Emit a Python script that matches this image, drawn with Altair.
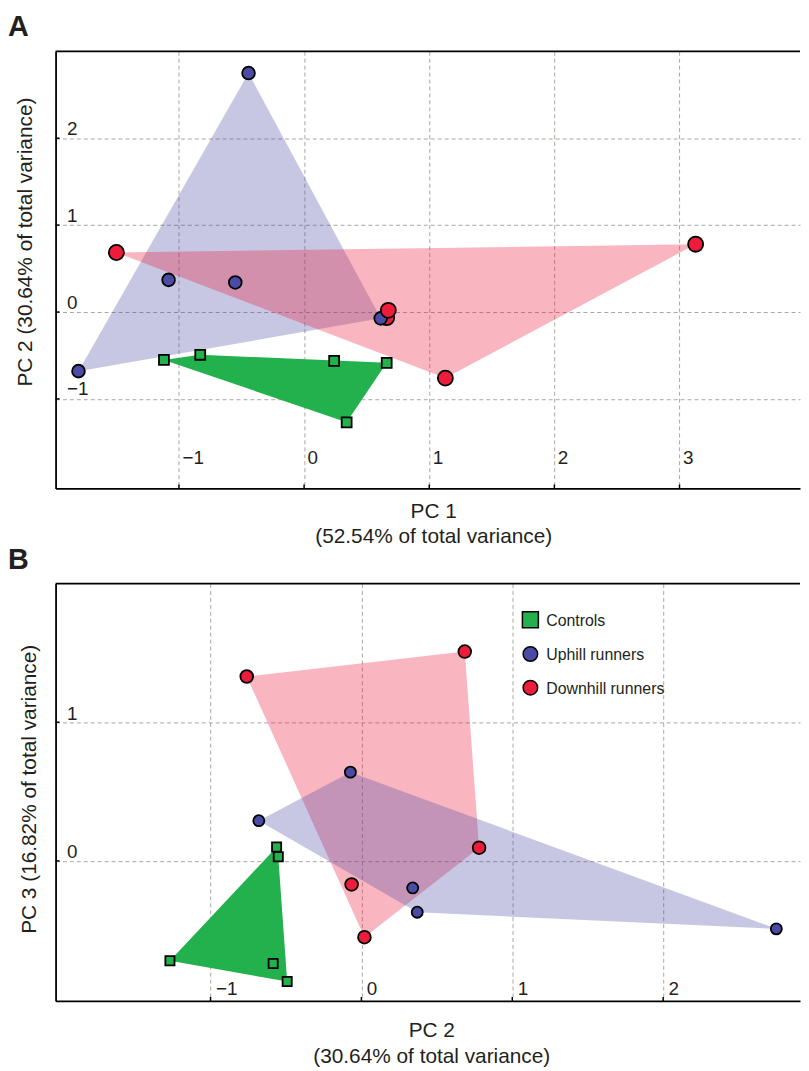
import altair as alt
import pandas as pd

# ---------------- data ----------------
groups = ["Controls", "Uphill runners", "Downhill runners"]
group_fill = ["#22B14C", "#4B4BA5", "#EC1C3A"]
group_shape = ["square", "circle", "circle"]

ctrl_pc1 = [-1.12, -0.83, 0.24, 0.66, 0.34]
ctrl_pc2 = [-0.551, -0.492, -0.562, -0.585, -1.269]
ctrl_pc3 = [0.03, -0.87, 0.10, -0.74, -0.72]

up_pc1 = [-0.444, -1.803, 0.612, -1.083, -0.55]
up_pc2 = [2.75, -0.68, -0.073, 0.37, 0.34]
up_pc3 = [-0.49, 0.29, 0.64, -0.37, -0.195]

down_pc1 = [-1.50, 3.129, 0.673, 1.129, 0.66]
down_pc2 = [0.685, 0.78, 0.02, -0.76, -0.065]
down_pc3 = [1.51, 0.095, -0.55, 1.33, -0.17]

# drawing order of the points (the hidden downhill point sits behind an uphill one)
draw_order = {"Controls": [0, 1, 2, 3, 4],
              "Uphill runners": [6, 7, 8, 9, 10],
              "Downhill runners": [11, 12, 13, 14, 5]}

xtick_a = [-1, 0, 1, 2, 3]
ytick_a = [-1, 0, 1, 2]
xtick_b = [-1, 0, 1, 2]
ytick_b = [0, 1]

pc = {
    "Controls": (ctrl_pc1, ctrl_pc2, ctrl_pc3),
    "Uphill runners": (up_pc1, up_pc2, up_pc3),
    "Downhill runners": (down_pc1, down_pc2, down_pc3),
}

FONT = "Liberation Sans"
TXT = "#231F20"

fill_scale = alt.Scale(domain=groups, range=group_fill)
shape_scale = alt.Scale(domain=groups, range=group_shape)


def convex_hull(pts):
    pts = sorted(set(pts))
    if len(pts) < 3:
        return pts

    def cross(o, a, b):
        return (a[0] - o[0]) * (b[1] - o[1]) - (a[1] - o[1]) * (b[0] - o[0])

    lower, upper = [], []
    for p in pts:
        while len(lower) >= 2 and cross(lower[-2], lower[-1], p) <= 0:
            lower.pop()
        lower.append(p)
    for p in reversed(pts):
        while len(upper) >= 2 and cross(upper[-2], upper[-1], p) <= 0:
            upper.pop()
        upper.append(p)
    return lower[:-1] + upper[:-1]


def frames(ix, iy):
    rows, hulls = [], {}
    for g in groups:
        xs, ys = pc[g][ix], pc[g][iy]
        for k, (a, b) in enumerate(zip(xs, ys)):
            rows.append({"x": a, "y": b, "group": g, "draw": draw_order[g][k]})
        h = convex_hull(list(zip(xs, ys)))
        hulls[g] = pd.DataFrame({"x": [p[0] for p in h], "y": [p[1] for p in h],
                                 "o": list(range(len(h)))})
    pts = pd.DataFrame(rows).sort_values("draw")
    return pts, hulls


def legend_layers():
    # legend block placed inside panel B (positions are pixel styling)
    ldf = pd.DataFrame({"group": groups})
    row_y = [36.5, 71.0, 105.0]
    sym_size = [260, 215, 215]
    out = []
    for g, yy, ss in zip(groups, row_y, sym_size):
        base = alt.Chart(ldf).transform_filter(alt.datum.group == g)
        out.append(
            base.mark_point(filled=True, stroke="black", strokeWidth=1.5, opacity=1)
            .encode(x=alt.value(479), y=alt.value(yy), size=alt.value(ss),
                    fill=alt.Fill("group:N", scale=fill_scale, legend=None),
                    shape=alt.Shape("group:N", scale=shape_scale, legend=None))
        )
        out.append(
            base.mark_text(align="left", baseline="middle", font=FONT, fontSize=16,
                           color=TXT)
            .encode(x=alt.value(495), y=alt.value(yy + 1), text="group:N")
        )
    return out


def panel(ix, iy, xdom, ydom, W, H, xticks, yticks, xtitle, ytitle,
          xaxis_kw, yaxis_kw, letter, hull_order, sizes, with_legend, title_offset):
    pts, hulls = frames(ix, iy)
    X = alt.X("x:Q", scale=alt.Scale(domain=xdom, nice=False, zero=False),
              axis=alt.Axis(values=xticks, title=xtitle, labelAlign="left",
                            labelBaseline="alphabetic", titleAlign="center",
                            titleBaseline="alphabetic", titleLineHeight=26,
                            **xaxis_kw))
    Y = alt.Y("y:Q", scale=alt.Scale(domain=ydom, nice=False, zero=False),
              axis=alt.Axis(values=yticks, title=ytitle, labelAlign="left",
                            labelBaseline="alphabetic", titleAlign="center",
                            titleBaseline="alphabetic", titleAngle=-90,
                            **yaxis_kw))
    layers = []
    hull_style = {
        "Controls": dict(fill="#22B14C", fillOpacity=1.0),
        "Uphill runners": dict(fill="#4B4BA5", fillOpacity=0.31),
        "Downhill runners": dict(fill="#EC1C3A", fillOpacity=0.32),
    }
    for g in hull_order:
        layers.append(
            alt.Chart(hulls[g]).mark_line(interpolate="linear-closed",
                                          strokeOpacity=0, strokeWidth=0,
                                          **hull_style[g])
            .encode(x=X, y=Y, order=alt.Order("o:Q"))
        )
    # top frame line
    layers.append(
        alt.Chart(pd.DataFrame({"a": [0]})).mark_rule(color="black", strokeWidth=1.8)
        .encode(x=alt.value(0), x2=alt.value(W), y=alt.value(0))
    )
    # short inward tick marks at the tick values
    layers.append(
        alt.Chart(pd.DataFrame({"x": xticks})).mark_rule(color="black", strokeWidth=1.5)
        .encode(x=X, y=alt.value(H - 4), y2=alt.value(H))
    )
    layers.append(
        alt.Chart(pd.DataFrame({"y": yticks})).mark_rule(color="black", strokeWidth=1.5)
        .encode(y=Y, x=alt.value(0), x2=alt.value(4))
    )
    layers.append(
        alt.Chart(pts).mark_point(filled=True, stroke="black", strokeWidth=1.8,
                                  opacity=1)
        .encode(
            x=X, y=Y,
            fill=alt.Fill("group:N", scale=fill_scale, legend=None),
            shape=alt.Shape("group:N", scale=shape_scale, legend=None),
            size=alt.Size("group:N", scale=alt.Scale(domain=groups, range=sizes),
                          legend=None),
            order=alt.Order("draw:Q"),
        )
    )
    if with_legend:
        layers.extend(legend_layers())
    return alt.layer(*layers).properties(
        width=W, height=H,
        title=alt.TitleParams(letter, anchor="start", frame="group", fontSize=29,
                              fontWeight="bold", font=FONT, color=TXT, dx=-48,
                              offset=title_offset, baseline="alphabetic"),
    )


W = 751
panel_a = panel(
    0, 1, [-1.986, 3.963], [-2.03, 3.0], W, 441, xtick_a, ytick_a,
    ["PC 1", "(52.54% of total variance)"], "PC 2 (30.64% of total variance)",
    dict(labelPadding=-25, labelOffset=3, titleX=381, titleY=29),
    dict(labelPadding=-11, labelOffset=-4, titleX=-24, titleY=192),
    "A", ["Uphill runners", "Downhill runners", "Controls"], [100, 230, 230], False, -14,
)

panel_b = panel(
    1, 2, [-2.027, 2.907], [-1.01, 2.0], W, 421, xtick_b, ytick_b,
    ["PC 2", "(30.64% of total variance)"], "PC 3 (16.82% of total variance)",
    dict(labelPadding=-6, labelOffset=5, titleX=379, titleY=36),
    dict(labelPadding=-11, labelOffset=-3, titleX=-20, titleY=207),
    "B", ["Downhill runners", "Uphill runners", "Controls"], [85, 165, 165], True, -15,
)

chart = (
    alt.vconcat(panel_a, panel_b, spacing=96, bounds="flush")
    .resolve_scale(fill="independent", shape="independent", size="independent")
    .properties(padding=0)
    .configure_view(stroke=None)
    .configure_axis(grid=True, gridColor="#A39A95", gridDash=[4, 3], gridWidth=0.9,
                    domainColor="black", domainWidth=1.8, ticks=False, tickSize=0,
                    labelFont=FONT, labelFontSize=19, labelColor=TXT,
                    titleFont=FONT, titleFontSize=21, titleFontWeight="normal",
                    titleColor=TXT)
)

chart.save("out.html", embed_options={"renderer": "svg", "actions": False})
